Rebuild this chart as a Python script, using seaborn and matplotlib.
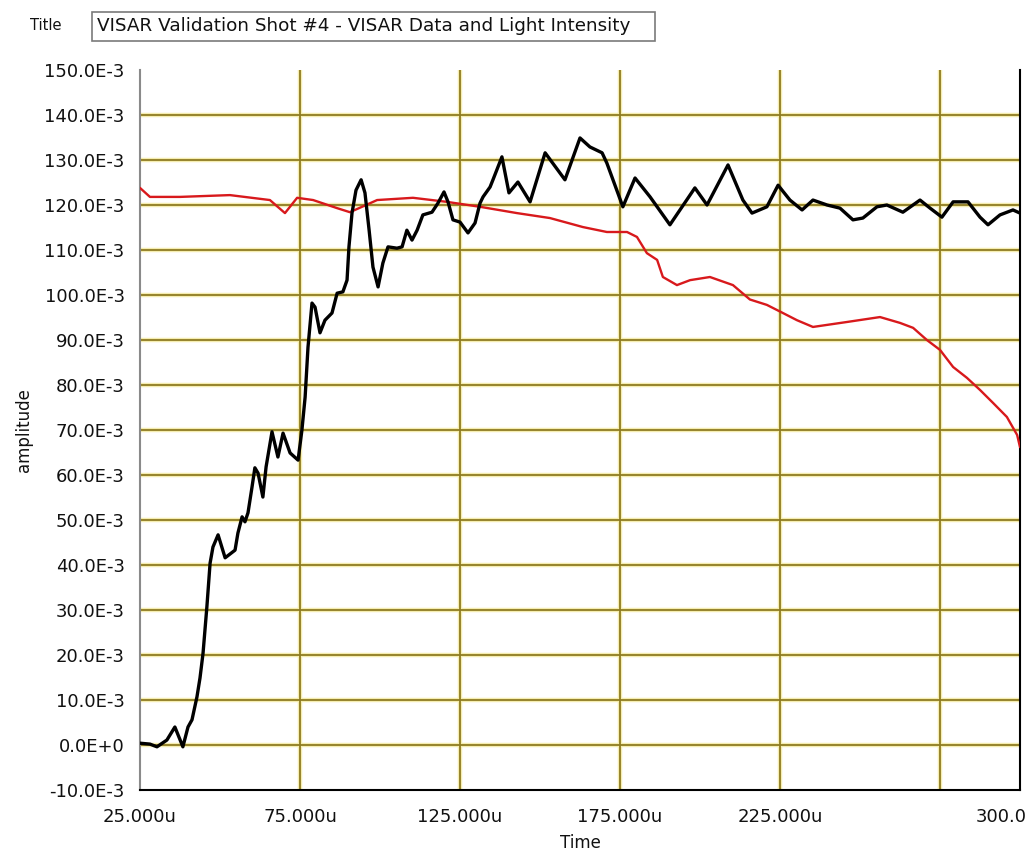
import numpy as np
import pandas as pd
import matplotlib
matplotlib.use("Agg")
import matplotlib.pyplot as plt
import matplotlib.transforms as mtransforms
from matplotlib.patches import Rectangle
import seaborn as sns

# ---------------- data (time in microseconds, amplitude in 1E-3) ----------------
visar_time = [25.0, 28.1, 30.3, 33.4, 35.9, 38.4, 40.0, 41.25, 42.8, 43.75, 44.7, 45.9,
              46.9, 47.8, 49.4, 51.6, 54.7, 55.6, 56.9, 57.8, 58.75, 60.0, 60.9, 61.9,
              63.4, 64.4, 66.25, 68.1, 69.7, 71.9, 74.4, 75.6, 76.6, 77.5, 78.75, 79.7,
              81.25, 82.8, 85.0, 86.6, 88.4, 89.7, 90.3, 91.25, 92.5, 94.1, 95.3, 96.6,
              97.8, 99.4, 100.9, 102.5, 105.3, 106.9, 108.4, 110.0, 111.6, 113.4, 116.25,
              118.1, 120.0, 121.25, 122.8, 125.0, 127.5, 129.7, 131.25, 132.2, 134.4,
              135.3, 138.1, 140.3, 143.1, 146.9, 151.6, 157.8, 162.5, 165.6, 169.4,
              170.9, 175.9, 179.7, 184.4, 190.6, 198.4, 202.2, 208.75, 213.4, 216.25,
              220.9, 224.4, 228.1, 231.9, 235.3, 239.7, 243.75, 247.8, 250.9, 255.3,
              258.4, 263.4, 268.75, 271.9, 275.6, 279.1, 283.75, 287.5, 290.0, 293.75,
              297.8, 300.0]
visar_amp = [0.4, 0.2, -0.4, 1.1, 4.0, -0.4, 4.0, 5.6, 10.7, 14.9, 20.4, 30.7,
             40.4, 44.0, 46.7, 41.6, 43.3, 47.1, 50.7, 49.6, 51.6, 57.3, 61.6, 60.4,
             55.1, 61.8, 69.6, 64.0, 69.3, 64.9, 63.3, 70.0, 77.3, 88.4, 98.2, 97.3,
             91.6, 94.4, 96.0, 100.4, 100.7, 103.3, 110.7, 118.2, 123.3, 125.6, 122.7, 114.4,
             106.2, 101.8, 107.1, 110.7, 110.4, 110.7, 114.4, 112.2, 114.4, 117.8, 118.4,
             120.4, 122.9, 120.7, 116.7, 116.2, 113.8, 116.0, 120.4, 121.8, 124.0,
             125.6, 130.7, 122.7, 125.1, 120.7, 131.6, 125.6, 134.9, 132.9, 131.6,
             129.3, 119.6, 126.0, 121.8, 115.6, 123.8, 120.0, 128.9, 121.1, 118.2,
             119.6, 124.4, 121.1, 118.9, 121.1, 120.0, 119.3, 116.7, 117.1, 119.6,
             120.0, 118.4, 121.1, 119.3, 117.3, 120.7, 120.7, 117.3, 115.6, 117.8,
             118.9, 118.2]

light_time = [25.0, 28.1, 37.5, 53.1, 65.6, 70.3, 74.1, 79.1, 86.6, 90.6, 99.1, 110.3,
              120.9, 131.25, 142.8, 153.1, 163.4, 170.9, 177.2, 180.3, 183.4, 186.6,
              188.4, 192.8, 196.9, 203.1, 210.3, 215.6, 220.9, 225.9, 230.3, 235.3,
              245.9, 256.25, 262.5, 266.6, 270.9, 275.0, 279.1, 283.4, 287.5, 291.6,
              295.9, 299.1, 300.0]
light_amp = [123.8, 121.8, 121.8, 122.2, 121.1, 118.2, 121.6, 121.1, 119.3, 118.4, 121.1, 121.6,
             120.7, 119.6, 118.2, 117.1, 115.1, 114.0, 114.0, 112.9, 109.3, 107.8,
             104.0, 102.2, 103.3, 104.0, 102.2, 99.0, 97.8, 96.0, 94.4, 92.9,
             94.0, 95.1, 93.8, 92.7, 90.0, 87.8, 84.0, 81.6, 78.9, 76.0,
             72.9, 68.9, 66.2]

y_ticks = [-10, 0, 10, 20, 30, 40, 50, 60, 70, 80, 90, 100, 110, 120, 130, 140, 150]
y_labels = ["-10.0E-3", "0.0E+0", "10.0E-3", "20.0E-3", "30.0E-3", "40.0E-3", "50.0E-3",
            "60.0E-3", "70.0E-3", "80.0E-3", "90.0E-3", "100.0E-3", "110.0E-3",
            "120.0E-3", "130.0E-3", "140.0E-3", "150.0E-3"]
x_ticks = [25, 75, 125, 175, 225, 275, 300]
x_labels = ["25.000u", "75.000u", "125.000u", "175.000u", "225.000u", "", "300.0"]
title_text = "VISAR Validation Shot #4 - VISAR Data and Light Intensity"

df_visar = pd.DataFrame({"Time": visar_time, "amplitude": visar_amp})
df_light = pd.DataFrame({"Time": light_time, "amplitude": light_amp})

# ---------------- style ----------------
sns.set_theme(style="white")
plt.rcParams["font.family"] = ["DejaVu Sans"]

fig = plt.figure(figsize=(10.30, 8.59), dpi=100)
fig.patch.set_facecolor("white")
ax = fig.add_axes([140 / 1030, 1 - 790 / 859, 880 / 1030, 720 / 859])
ax.set_facecolor("white")

grid_col = "#8f7c22"
for gx in [75, 125, 175, 225, 275]:
    ax.axvline(gx, color="#f5edb0", lw=3.2, zorder=0)
    ax.axvline(gx, color=grid_col, lw=1.3, zorder=1)
for gy in y_ticks[1:-1]:
    ax.axhline(gy, color="#f5edb0", lw=3.2, zorder=0)
    ax.axhline(gy, color=grid_col, lw=1.3, zorder=1)

sns.lineplot(data=df_light, x="Time", y="amplitude", ax=ax, color="#d8191c",
             linewidth=1.7, estimator=None, sort=False, zorder=3)
sns.lineplot(data=df_visar, x="Time", y="amplitude", ax=ax, color="black",
             linewidth=2.4, estimator=None, sort=False, zorder=4)

ax.set_xlim(25, 300)
ax.set_ylim(-10, 150)
ax.set_yticks(y_ticks)
ax.set_yticklabels(y_labels)
ax.set_xticks(x_ticks)
ax.set_xticklabels(x_labels)
ax.tick_params(axis="both", which="both", direction="out", width=1.2,
               color="#222222", labelsize=13, labelcolor="#111111")
ax.tick_params(axis="x", pad=5, length=8)
ax.tick_params(axis="y", pad=4, length=7)

# right-most label shifted as in the reference
lbls = ax.get_xticklabels()
offset = mtransforms.ScaledTranslation(-0.19, 0, fig.dpi_scale_trans)
lbls[-1].set_transform(lbls[-1].get_transform() + offset)

ax.set_xlabel("Time", fontsize=12, color="#111111", labelpad=6)
ax.set_ylabel("amplitude", fontsize=12, color="#111111", labelpad=8)

ax.spines["top"].set_visible(False)
ax.spines["left"].set_color("#8a8a8a")
ax.spines["left"].set_linewidth(1.5)
ax.spines["bottom"].set_color("black")
ax.spines["bottom"].set_linewidth(1.5)
ax.spines["right"].set_color("black")
ax.spines["right"].set_linewidth(1.5)

# title box
fig.text(30 / 1030, 1 - 26 / 859, "Title", fontsize=10.5, va="center", ha="left",
         color="#111111")
box = Rectangle((92 / 1030, 1 - 41 / 859), (655 - 92) / 1030, 29 / 859,
                transform=fig.transFigure, facecolor="white", edgecolor="#7a7a7a",
                linewidth=1.2)
fig.patches.append(box)
fig.text(97 / 1030, 1 - 26 / 859, title_text, fontsize=13.2, va="center", ha="left",
         color="#111111")

fig.savefig("out.png", dpi=100)
